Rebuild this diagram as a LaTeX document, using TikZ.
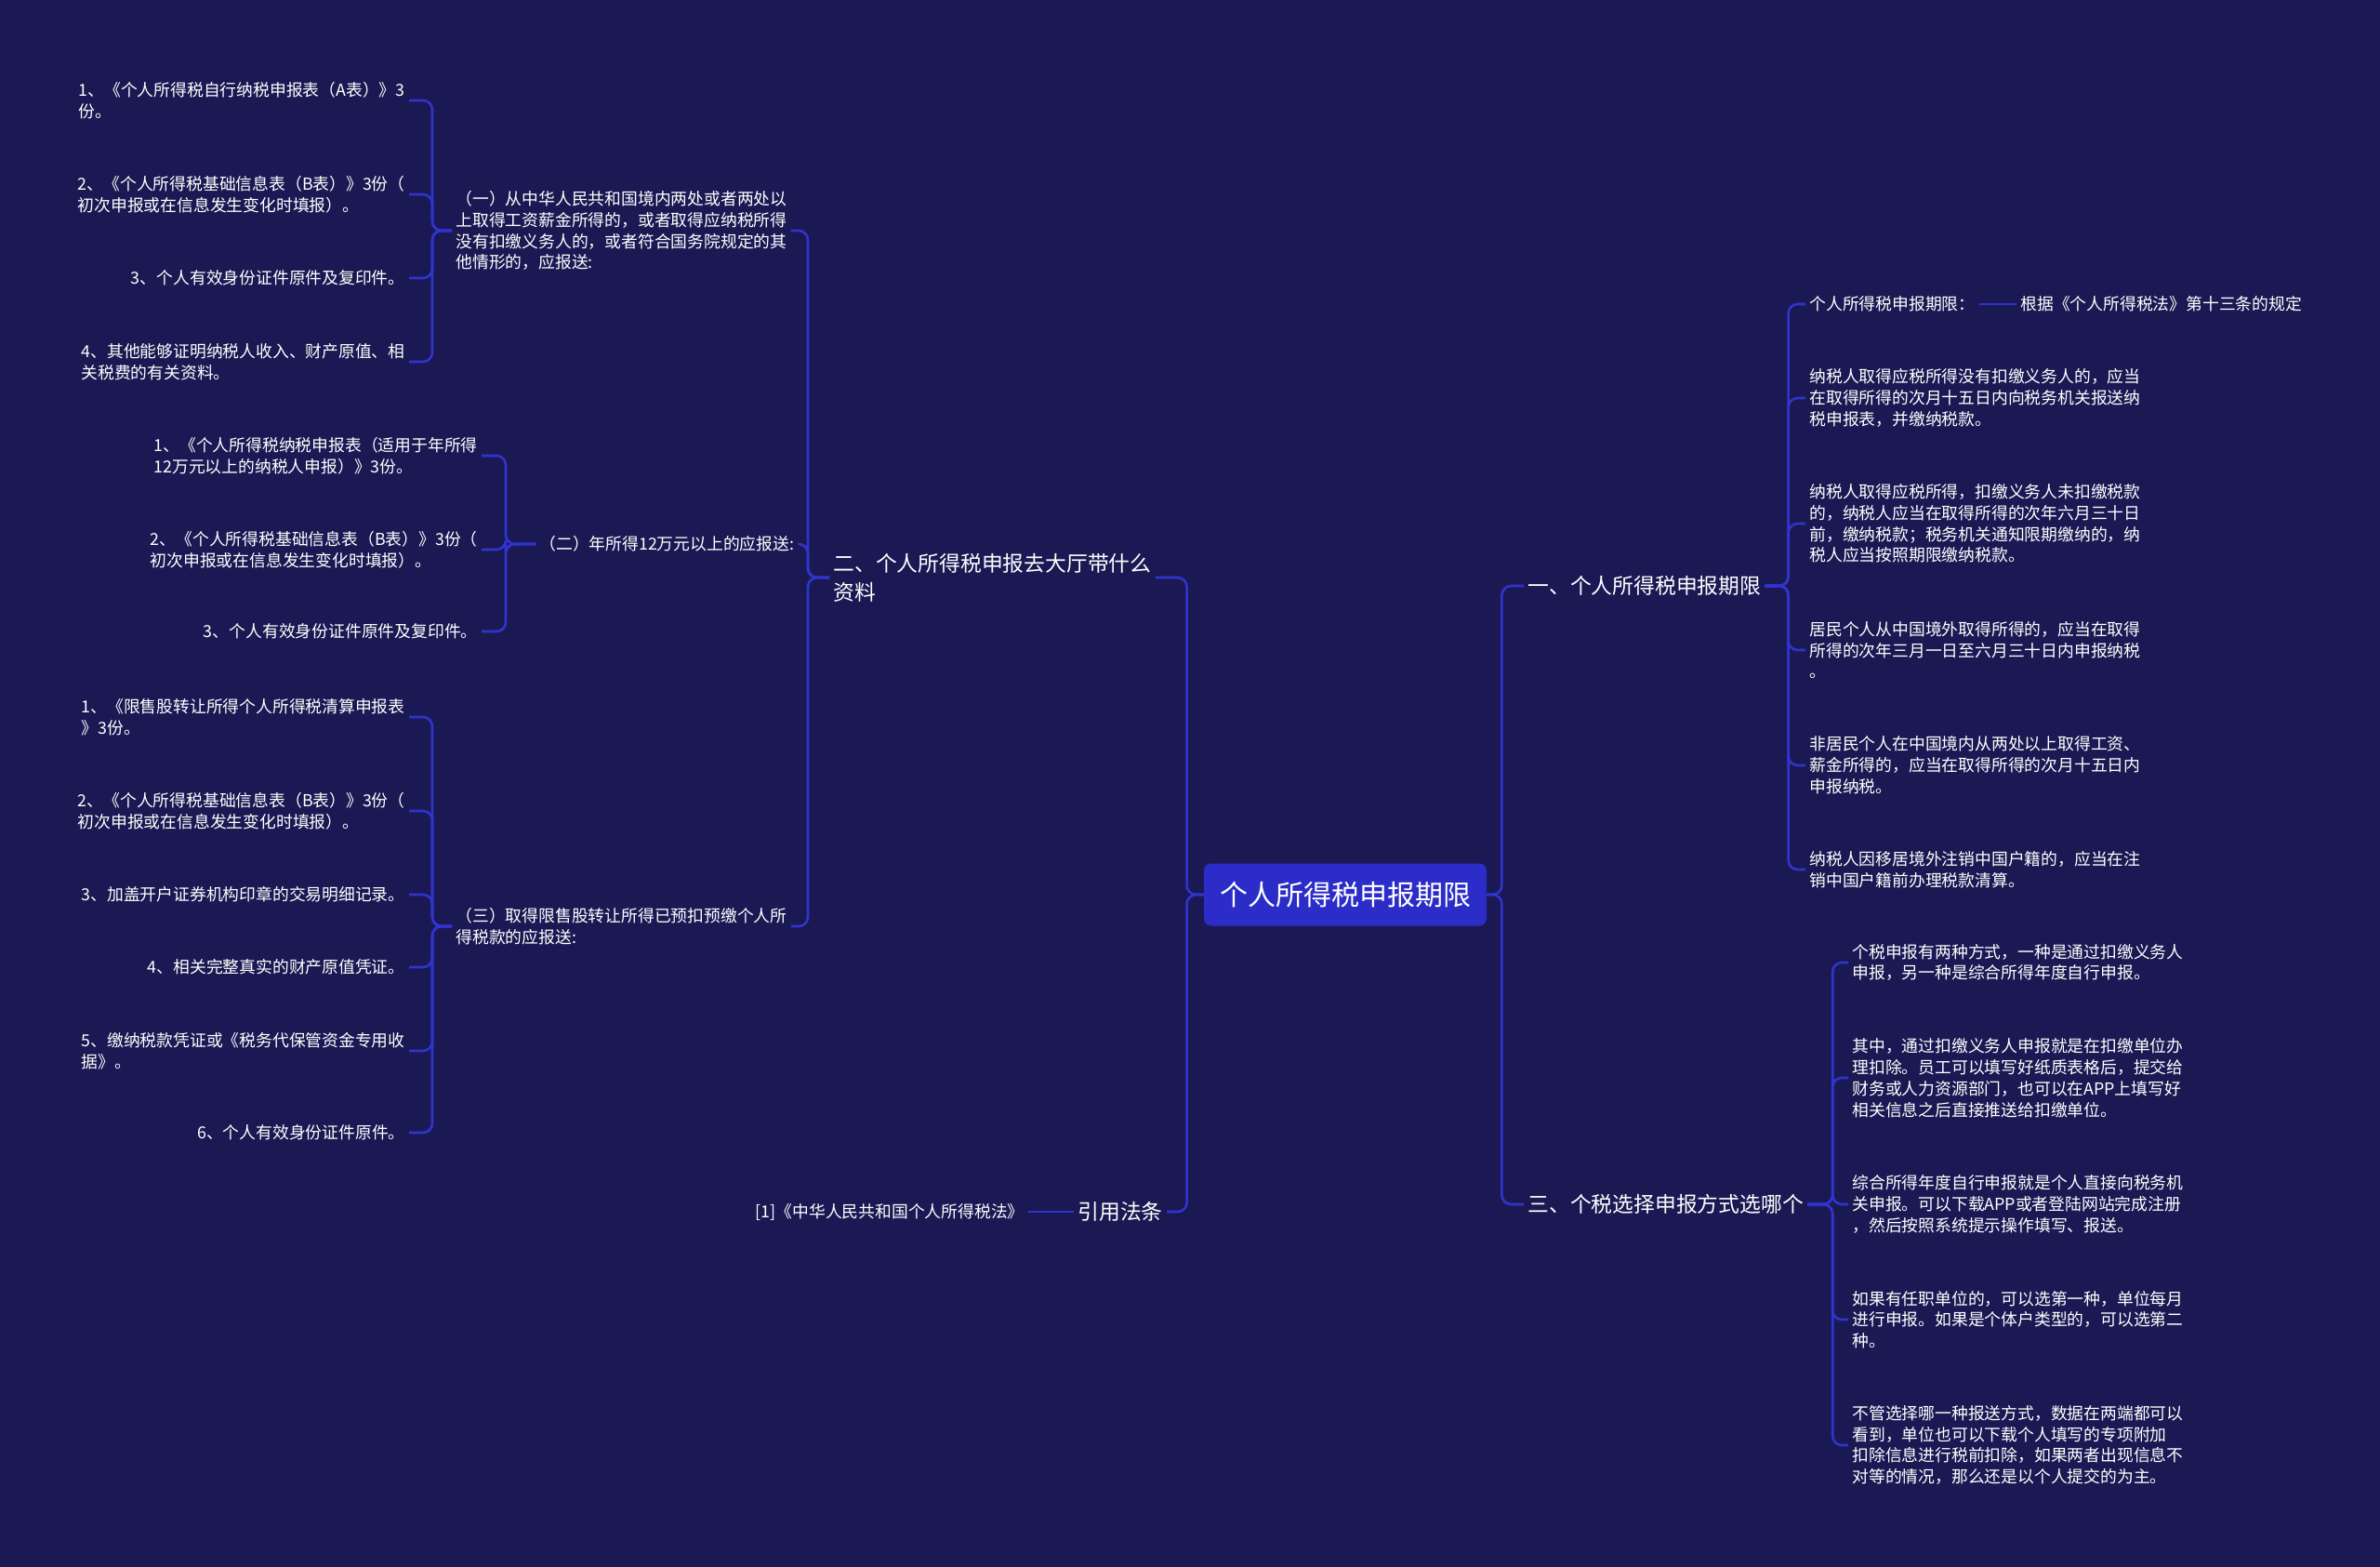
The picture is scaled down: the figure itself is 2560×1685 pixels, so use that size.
\documentclass[tikz,border=0pt]{standalone}
\usepackage{fontspec}
\setmainfont{Noto Sans CJK SC}
\usetikzlibrary{positioning}

\definecolor{bgnavy}{RGB}{27,25,83}
\definecolor{rootblue}{RGB}{44,45,200}
\definecolor{linkblue}{RGB}{47,52,205}

\begin{document}
\begin{tikzpicture}[x=0.5pt, y=-0.5pt, every node/.style={text=white},
  root/.style={fill=rootblue, rounded corners=4pt, font=\fontsize{15}{18}\selectfont, minimum width=152pt, minimum height=33.5pt},
  branch/.style={align=left, inner sep=2pt, font=\fontsize{11.4}{15.5}\selectfont},
  leaf/.style={align=left, inner sep=2pt, font=\fontsize{8.9}{11.4}\selectfont},
  link/.style={draw=linkblue, line width=1.3pt, rounded corners=5pt}]
\useasboundingbox (0,0) rectangle (2560,1685);
\fill[bgnavy] (0,0) rectangle (2560,1685);

\node[root] (root) at (1447,962) {个人所得税申报期限};

% right side
\node[branch, anchor=west] (yi) at (1639,630) {一、个人所得税申报期限};
\node[branch, anchor=west] (san) at (1639,1295) {三、个税选择申报方式选哪个};

\node[leaf, anchor=west] (r1) at (1942,327) {个人所得税申报期限：};
\node[leaf, anchor=west] (r1b) at (2169,327) {根据《个人所得税法》第十三条的规定};
\node[leaf, anchor=west] (r2) at (1942,428) {纳税人取得应税所得没有扣缴义务人的，应当\\在取得所得的次月十五日内向税务机关报送纳\\税申报表，并缴纳税款。};
\node[leaf, anchor=west] (r3) at (1942,563) {纳税人取得应税所得，扣缴义务人未扣缴税款\\的，纳税人应当在取得所得的次年六月三十日\\前，缴纳税款；税务机关通知限期缴纳的，纳\\税人应当按照期限缴纳税款。};
\node[leaf, anchor=west] (r4) at (1942,699) {居民个人从中国境外取得所得的，应当在取得\\所得的次年三月一日至六月三十日内申报纳税\\。};
\node[leaf, anchor=west] (r5) at (1942,823) {非居民个人在中国境内从两处以上取得工资、\\薪金所得的，应当在取得所得的次月十五日内\\申报纳税。};
\node[leaf, anchor=west] (r6) at (1942,935) {纳税人因移居境外注销中国户籍的，应当在注\\销中国户籍前办理税款清算。};

\node[leaf, anchor=west] (q1) at (1988,1035) {个税申报有两种方式，一种是通过扣缴义务人\\申报，另一种是综合所得年度自行申报。};
\node[leaf, anchor=west] (q2) at (1988,1159) {其中，通过扣缴义务人申报就是在扣缴单位办\\理扣除。员工可以填写好纸质表格后，提交给\\财务或人力资源部门，也可以在APP上填写好\\相关信息之后直接推送给扣缴单位。};
\node[leaf, anchor=west] (q3) at (1988,1295) {综合所得年度自行申报就是个人直接向税务机\\关申报。可以下载APP或者登陆网站完成注册\\，然后按照系统提示操作填写、报送。};
\node[leaf, anchor=west] (q4) at (1988,1419) {如果有任职单位的，可以选第一种，单位每月\\进行申报。如果是个体户类型的，可以选第二\\种。};
\node[leaf, anchor=west] (q5) at (1988,1554) {不管选择哪一种报送方式，数据在两端都可以\\看到，单位也可以下载个人填写的专项附加\\扣除信息进行税前扣除，如果两者出现信息不\\对等的情况，那么还是以个人提交的为主。};

% left side
\node[branch, anchor=west] (er) at (892,621) {二、个人所得税申报去大厅带什么\\资料};
\node[branch, anchor=west] (yin) at (1155,1303) {引用法条};
\node[leaf, anchor=east] (ref) at (1106,1303) {[1]《中华人民共和国个人所得税法》};

\node[leaf, anchor=west] (s1) at (486,248) {（一）从中华人民共和国境内两处或者两处以\\上取得工资薪金所得的，或者取得应纳税所得\\没有扣缴义务人的，或者符合国务院规定的其\\他情形的，应报送:};
\node[leaf, anchor=west] (s2) at (576,585) {（二）年所得12万元以上的应报送:};
\node[leaf, anchor=west] (s3) at (486,996) {（三）取得限售股转让所得已预扣预缴个人所\\得税款的应报送:};

\node[leaf, anchor=east] (a1) at (440,108) {1、《个人所得税自行纳税申报表（A表）》3\\份。};
\node[leaf, anchor=east] (a2) at (440,209) {2、《个人所得税基础信息表（B表）》3份（\\初次申报或在信息发生变化时填报）。};
\node[leaf, anchor=east] (a3) at (440,299) {3、个人有效身份证件原件及复印件。};
\node[leaf, anchor=east] (a4) at (440,389) {4、其他能够证明纳税人收入、财产原值、相\\关税费的有关资料。};

\node[leaf, anchor=east] (c1) at (518,490) {1、《个人所得税纳税申报表（适用于年所得\\12万元以上的纳税人申报）》3份。};
\node[leaf, anchor=east] (c2) at (518,591) {2、《个人所得税基础信息表（B表）》3份（\\初次申报或在信息发生变化时填报）。};
\node[leaf, anchor=east] (c3) at (518,679) {3、个人有效身份证件原件及复印件。};

\node[leaf, anchor=east] (d1) at (440,771) {1、《限售股转让所得个人所得税清算申报表\\》3份。};
\node[leaf, anchor=east] (d2) at (440,872) {2、《个人所得税基础信息表（B表）》3份（\\初次申报或在信息发生变化时填报）。};
\node[leaf, anchor=east] (d3) at (440,962) {3、加盖开户证券机构印章的交易明细记录。};
\node[leaf, anchor=east] (d4) at (440,1040) {4、相关完整真实的财产原值凭证。};
\node[leaf, anchor=east] (d5) at (440,1130) {5、缴纳税款凭证或《税务代保管资金专用收\\据》。};
\node[leaf, anchor=east] (d6) at (440,1218) {6、个人有效身份证件原件。};

% connectors
\draw[link] (root.east) -- ++(16,0) |- (yi.west);
\draw[link] (root.east) -- ++(16,0) |- (san.west);
\draw[link] (root.west) -- ++(-18,0) |- (er.east);
\draw[link] (root.west) -- ++(-18,0) |- (yin.east);
\foreach \i in {1,...,6} \draw[link] (yi.east) -- ++(25,0) |- (r\i.west);
\draw[link] (r1.east) -- (r1b.west);
\foreach \i in {1,...,5} \draw[link] (san.east) -- ++(27,0) |- (q\i.west);
\foreach \i in {1,2,3} \draw[link] (er.west) -- ++(-23,0) |- (s\i.east);
\foreach \i in {1,...,4} \draw[link] (s1.west) -- ++(-21,0) |- (a\i.east);
\foreach \i in {1,2,3} \draw[link] (s2.west) -- ++(-32,0) |- (c\i.east);
\foreach \i in {1,...,6} \draw[link] (s3.west) -- ++(-21,0) |- (d\i.east);
\draw[link] (yin.west) -- (ref.east);
\end{tikzpicture}
\end{document}
